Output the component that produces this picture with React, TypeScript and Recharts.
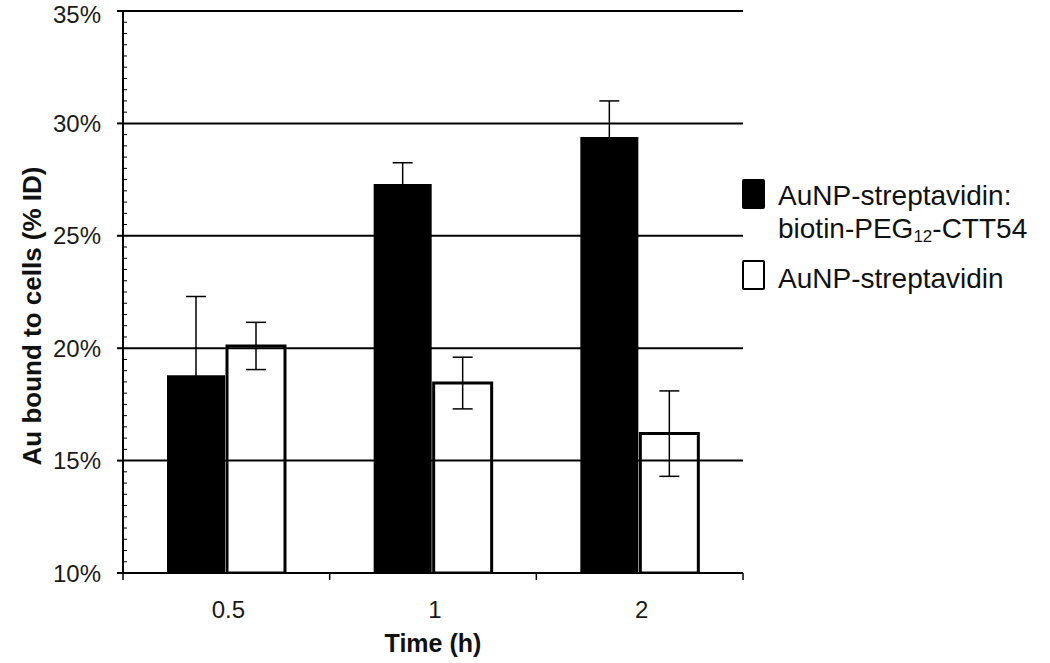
import React from "react";
import { Bar, BarChart, ErrorBar, ReferenceLine, XAxis, YAxis } from "recharts";

const timePoints = ["0.5", "1", "2"];
const conjugateBound = [18.8, 27.3, 29.4];
const conjugateErr = [3.5, 0.95, 1.6];
const streptavidinBound = [20.1, 18.45, 16.2];
const streptavidinErr = [1.05, 1.15, 1.9];
const majorTicks = [10, 15, 20, 25, 30, 35];

const minorTicks: number[] = [];
for (let v = 10; v <= 35.001; v += 0.5) minorTicks.push(Math.round(v * 10) / 10);

const data = timePoints.map((t, i) => ({
  time: t,
  conjugate: conjugateBound[i],
  conjugateErr: conjugateErr[i],
  streptavidin: streptavidinBound[i],
  streptavidinErr: streptavidinErr[i],
}));

const W = 1050;
const H = 663;
const PLOT_LEFT = 123;
const PLOT_RIGHT = 743;
const HALF_BAND = (PLOT_RIGHT - PLOT_LEFT) / timePoints.length / 2;
const FONT = '"Liberation Sans", Arial, sans-serif';

function YTick({ y, payload }: any) {
  const major = majorTicks.includes(payload.value);
  if (!major) {
    return <line x1={PLOT_LEFT} x2={PLOT_LEFT + 4} y1={y} y2={y} stroke="#000" strokeWidth={1} />;
  }
  // keep the top label inside the picture
  const ty = Math.max(y, 14);
  return (
    <g>
      <line x1={PLOT_LEFT - 6} x2={PLOT_LEFT} y1={y} y2={y} stroke="#000" strokeWidth={2} />
      <text x={PLOT_LEFT - 22} y={ty} textAnchor="end" dominantBaseline="central" fontFamily={FONT} fontSize={24} fill="#1a1a1a">
        {payload.value}%
      </text>
    </g>
  );
}

function XTick({ x, payload, index }: any) {
  const last = index === timePoints.length - 1;
  return (
    <g>
      <line x1={x - HALF_BAND} x2={x - HALF_BAND} y1={573} y2={580} stroke="#000" strokeWidth={1.5} />
      {last && <line x1={x + HALF_BAND} x2={x + HALF_BAND} y1={573} y2={580} stroke="#000" strokeWidth={1.5} />}
      <text x={x + 2} y={609} textAnchor="middle" dominantBaseline="central" fontFamily={FONT} fontSize={24} fill="#1a1a1a">
        {payload.value}
      </text>
    </g>
  );
}

function YTitle() {
  return (
    <text
      x={32}
      y={316}
      transform="rotate(-90 32 316)"
      textAnchor="middle"
      dominantBaseline="central"
      fontFamily={FONT}
      fontSize={26}
      fontWeight="bold"
      fill="#111"
    >
      Au bound to cells (% ID)
    </text>
  );
}

export default function App() {
  return (
    <div style={{ position: "absolute", left: 0, top: 0, width: W, height: H, background: "#fff", fontFamily: FONT }}>
      <BarChart
        width={W}
        height={H}
        data={data}
        margin={{ top: 11, right: W - PLOT_RIGHT, left: 0, bottom: 0 }}
        barSize={58}
        barGap={2}
      >
        {majorTicks.slice(1).map((v) => (
          <ReferenceLine key={v} y={v} stroke="#000" strokeWidth={2} />
        ))}
        <XAxis
          dataKey="time"
          height={90}
          axisLine={{ stroke: "#000", strokeWidth: 2 }}
          tickLine={false}
          tick={<XTick />}
          interval={0}
          label={{
            value: "Time (h)",
            position: "insideBottom",
            offset: 11,
            style: { fontFamily: FONT, fontSize: 25, fontWeight: "bold", fill: "#111" },
          }}
        />
        <YAxis
          type="number"
          domain={[10, 35]}
          ticks={minorTicks}
          interval={0}
          width={PLOT_LEFT}
          axisLine={{ stroke: "#000", strokeWidth: 2 }}
          tickLine={false}
          tick={<YTick />}
          allowDataOverflow
          label={<YTitle />}
        />
        <Bar dataKey="conjugate" fill="#000" isAnimationActive={false}>
          <ErrorBar dataKey="conjugateErr" width={10} stroke="#000" strokeWidth={1.5} />
        </Bar>
        <Bar dataKey="streptavidin" fill="#fff" stroke="#000" strokeWidth={3} isAnimationActive={false}>
          <ErrorBar dataKey="streptavidinErr" width={10} stroke="#000" strokeWidth={1.5} />
        </Bar>
      </BarChart>
      <div style={{ position: "absolute", left: 742, top: 179, width: 23, height: 30, background: "#000", borderRadius: 2 }} />
      <div style={{ position: "absolute", left: 742, top: 260, width: 19, height: 26, border: "2px solid #000", borderRadius: 2 }} />
      <div style={{ position: "absolute", left: 778, top: 179, fontSize: 28, lineHeight: "33px", color: "#111", whiteSpace: "nowrap" }}>
        <div>AuNP-streptavidin:</div>
        <div>
          biotin-PEG<sub style={{ fontSize: 17, verticalAlign: "-4px" }}>12</sub>-CTT54
        </div>
      </div>
      <div style={{ position: "absolute", left: 778, top: 262, fontSize: 28, lineHeight: "33px", color: "#111", whiteSpace: "nowrap" }}>
        AuNP-streptavidin
      </div>
    </div>
  );
}
